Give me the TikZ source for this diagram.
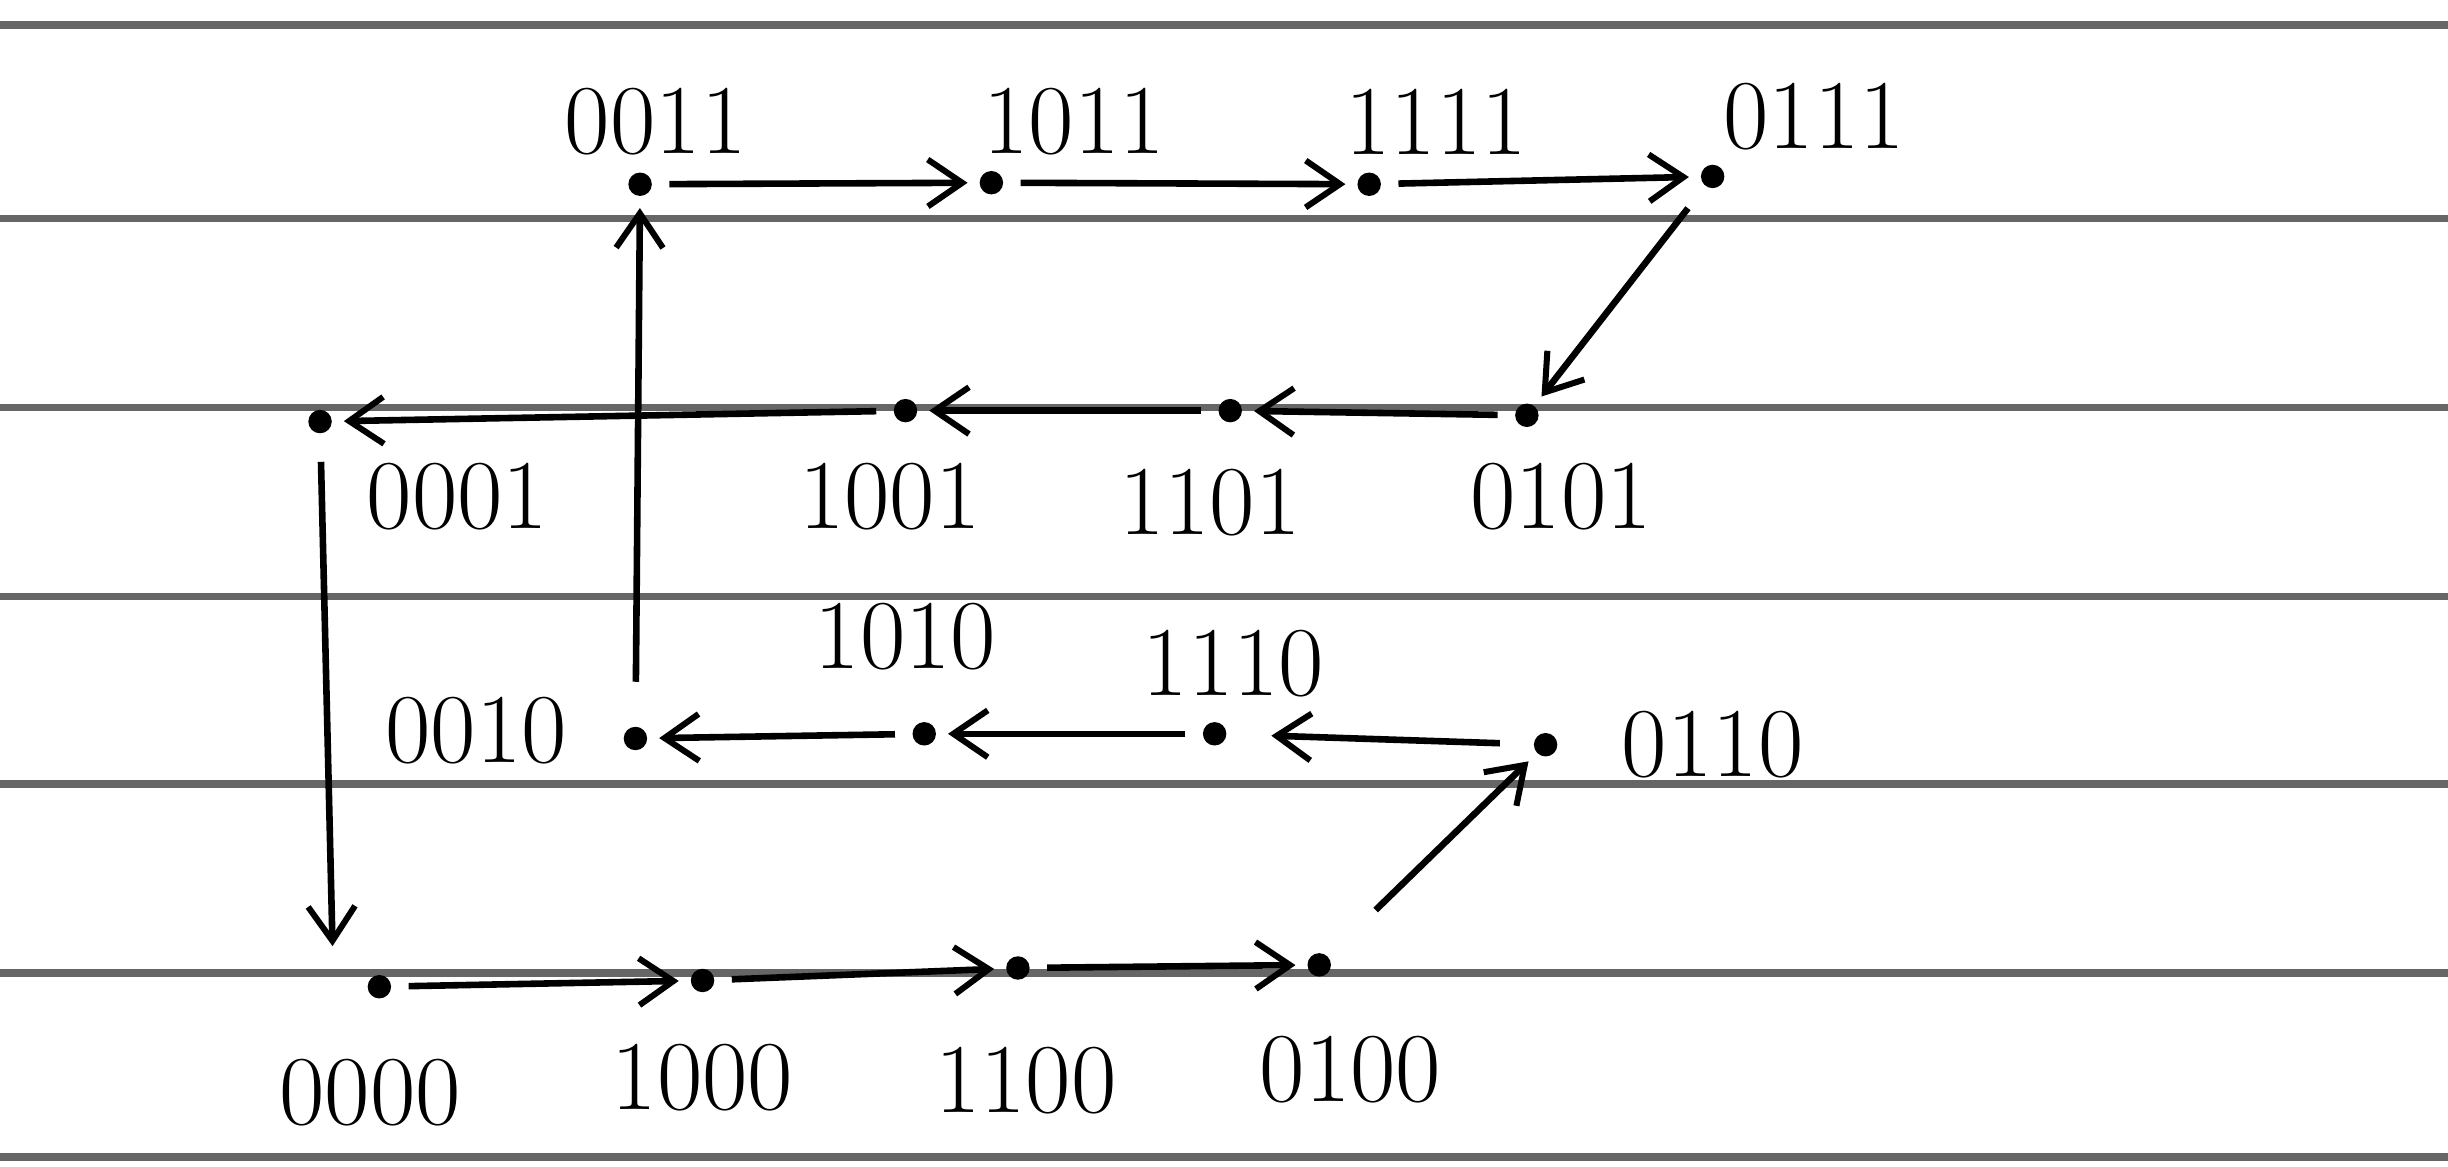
\documentclass[tikz,border=0pt]{standalone}
\usetikzlibrary{arrows.meta}
\begin{document}
\begin{tikzpicture}[x=0.01cm,y=-0.01cm,
  dot/.style={circle,fill=black,inner sep=0pt,minimum size=0.15cm},
  lbl/.style={font=\fontsize{18}{21}\selectfont,inner sep=1pt},
  rule/.style={draw=black!60,line width=1.4pt},
  edge/.style={draw=black,line width=1.2pt,-{Straight Barb[length=0.22cm,width=0.3cm,line width=1.1pt]},shorten >=2pt,shorten <=3pt}]
\useasboundingbox (0,0) rectangle (1568,747);
\fill[white] (0,0) rectangle (1568,747);
% ruled lines
\foreach \y in {16,140,261,382,502,623,741} \draw[rule] (0,\y) -- (1568,\y);
% dots
\node[dot] (n0011) at (410,118) {};
\node[dot] (n1011) at (635,117) {};
\node[dot] (n1111) at (877,118) {};
\node[dot] (n0111) at (1097,113) {};
\node[dot] (n0101) at (978,266) {};
\node[dot] (n1101) at (788,263) {};
\node[dot] (n1001) at (580,263) {};
\node[dot] (n0001) at (205,270) {};
\node[dot] (n0010) at (407,473) {};
\node[dot] (n1010) at (592,470) {};
\node[dot] (n1110) at (778,470) {};
\node[dot] (n0110) at (990,477) {};
\node[dot] (n0000) at (243,632) {};
\node[dot] (n1000) at (450,628) {};
\node[dot] (n1100) at (652,620) {};
\node[dot] (n0100) at (845,618) {};
% labels
\node[lbl] (l0011) at (420,78) {0011};
\node[lbl] (l1011) at (688,78) {1011};
\node[lbl] (l1111) at (920,78) {1111};
\node[lbl] (l0111) at (1162,75) {0111};
\node[lbl] (l0001) at (293,318) {0001};
\node[lbl] (l1001) at (570,318) {1001};
\node[lbl] (l1101) at (775,322) {1101};
\node[lbl] (l0101) at (1000,318) {0101};
\node[lbl] (l0010) at (305,468) {0010};
\node[lbl] (l1010) at (580,408) {1010};
\node[lbl] (l1110) at (790,425) {1110};
\node[lbl] (l0110) at (1097,477) {0110};
\node[lbl] (l0000) at (237,700) {0000};
\node[lbl] (l1000) at (450,690) {1000};
\node[lbl] (l1100) at (657,692) {1100};
\node[lbl] (l0100) at (865,685) {0100};
% edges
\coordinate (c0000) at (213,606);
\draw[edge] (n0011) -- (n1011);
\draw[edge] (n1011) -- (n1111);
\draw[edge] (n1111) -- (n0111);
\draw[edge,shorten <=5pt] (n0111) -- (n0101);
\draw[edge] (n0101) -- (n1101);
\draw[edge] (n1101) -- (n1001);
\draw[edge] (n1001) -- (n0001);
\draw[edge,shorten <=5pt,shorten >=0pt] (n0001) -- (c0000);
\draw[edge] (n0000) -- (n1000);
\draw[edge] (n1000) -- (n1100);
\draw[edge] (n1100) -- (n0100);
\draw[edge,shorten <=12pt] (n0100) -- (n0110);
\draw[edge,shorten <=6pt,shorten >=8pt] (n0110) -- (n1110);
\draw[edge] (n1110) -- (n1010);
\draw[edge] (n1010) -- (n0010);
\draw[edge,shorten <=8pt] (n0010) -- (n0011);
\end{tikzpicture}
\end{document}
